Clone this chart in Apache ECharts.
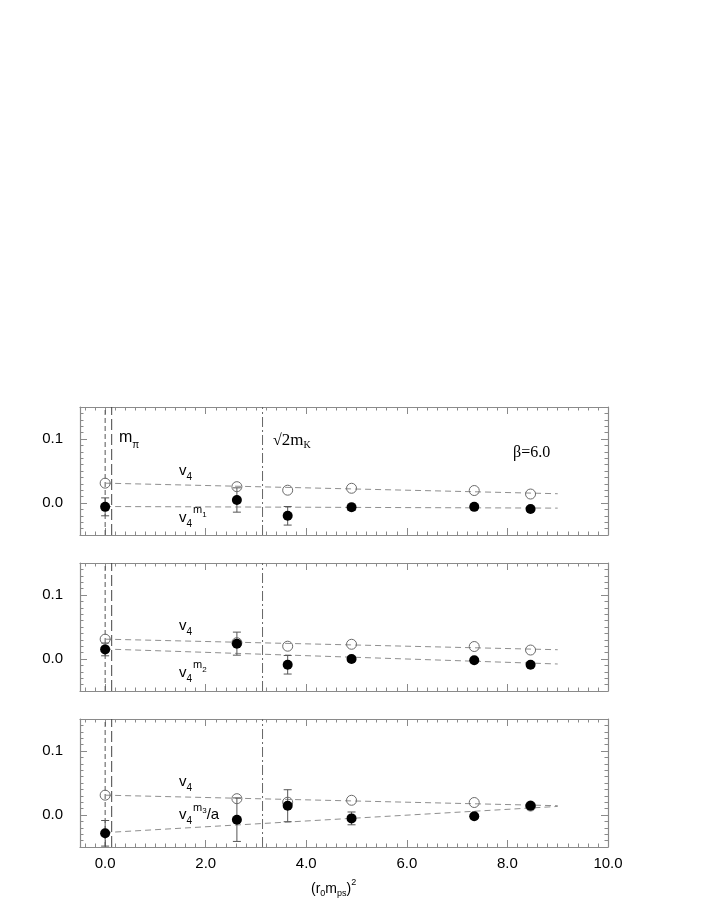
<!DOCTYPE html>
<html>
<head>
<meta charset="utf-8">
<script src="https://cdn.jsdelivr.net/npm/echarts@6/dist/echarts.min.js"></script>
<style>
html,body{margin:0;padding:0;background:#fff;}
#chart{width:708px;height:917px;}
</style>
</head>
<body>
<div id="chart"></div>
<script>
// ---------------- data ----------------
const xValues = [0, 2.62, 3.63, 4.90, 7.34, 8.46];
const v4 = [0.031, 0.0255, 0.020, 0.023, 0.0195, 0.014];
const m1 = [-0.006, 0.0047, -0.020, -0.0067, -0.006, -0.0094];
const m1Err = [0.014, 0.019, 0.0145, 0.005, 0.003, 0.003];
const m2 = [0.015, 0.024, -0.009, 0.0, -0.002, -0.009];
const m2Err = [0.010, 0.018, 0.0145, 0.004, 0.003, 0.003];
const m3 = [-0.0286, -0.0073, 0.0145, -0.0053, -0.002, 0.0145];
const m3Err = [0.020, 0.034, 0.025, 0.010, 0.003, 0.003];
const fitX = [0, 9];
const fitV4 = [0.031, 0.0145];
const fitM1 = [-0.0055, -0.008];
const fitM2 = [0.0156, -0.0078];
const fitM3 = [-0.0275, 0.0134];
const vLineX = [0, 0.13, 3.13];
const xMajorTicks = [0, 2, 4, 6, 8, 10];
const yMajorTicks = [0, 0.1];
const xRange = [-0.5, 10];
const yRange = [-0.05, 0.15];

const panels = [
  {vals: m1, errs: m1Err, fit: fitM1},
  {vals: m2, errs: m2Err, fit: fitM2},
  {vals: m3, errs: m3Err, fit: fitM3}
];

// minor tick positions
const xMinorTicks = [];
for (let i = -2; i <= 50; i++) xMinorTicks.push(+(i * 0.2).toFixed(2));
const yMinorTicks = [];
for (let i = -5; i <= 15; i++) yMinorTicks.push(+(i * 0.01).toFixed(3));

const FRAME = '#8a8a8a';
const SANS = '"Liberation Sans", Arial, sans-serif';
const SERIF = '"Liberation Serif", "Times New Roman", serif';

const chart = echarts.init(document.getElementById('chart'), null, {renderer: 'canvas'});

const gridTops = [407, 563, 719];
const grids = gridTops.map(t => ({left: 80, width: 528, top: t, height: 128}));

const xAxes = [], yAxes = [];
gridTops.forEach((t, gi) => {
  const isLast = gi === 2;
  [['bottom', true], ['bottom', false], ['top', true], ['top', false]].forEach(([pos, major]) => {
    xAxes.push({
      type: 'value', gridIndex: gi, position: pos, min: xRange[0], max: xRange[1],
      axisLine: {show: major, onZero: false, lineStyle: {color: FRAME, width: 1.2}},
      axisTick: {show: true, inside: true, length: major ? 7 : 3.5,
        customValues: major ? xMajorTicks : xMinorTicks,
        lineStyle: {color: FRAME, width: 1}},
      axisLabel: {show: major && pos === 'bottom' && isLast, customValues: xMajorTicks,
        formatter: v => v.toFixed(1), color: '#000', fontSize: 15, fontFamily: SANS, margin: 9},
      splitLine: {show: false}
    });
  });
  [['left', true], ['left', false], ['right', true], ['right', false]].forEach(([pos, major]) => {
    yAxes.push({
      type: 'value', gridIndex: gi, position: pos, min: yRange[0], max: yRange[1],
      axisLine: {show: major, onZero: false, lineStyle: {color: FRAME, width: 1.2}},
      axisTick: {show: true, inside: true, length: major ? 7 : 3.5,
        customValues: major ? yMajorTicks : yMinorTicks,
        lineStyle: {color: FRAME, width: 1}},
      axisLabel: {show: major && pos === 'left', customValues: yMajorTicks,
        formatter: v => v.toFixed(1), color: '#000', fontSize: 15, fontFamily: SANS, margin: 17},
      splitLine: {show: false}
    });
  });
});

const series = [];
panels.forEach((p, gi) => {
  const xi = gi * 4, yi = gi * 4;
  // vertical marker lines
  const vStyles = [
    {type: [5, 3], color: '#555', width: 1},
    {type: [11, 4], color: '#444', width: 1},
    {type: [10, 3, 2, 3], color: '#666', width: 1}
  ];
  vLineX.forEach((vx, k) => {
    series.push({
      type: 'line', xAxisIndex: xi, yAxisIndex: yi, symbol: 'none', silent: true,
      data: [[vx, yRange[0]], [vx, yRange[1]]],
      lineStyle: vStyles[k], z: 1, animation: false
    });
  });
  // fit lines
  series.push({
    type: 'line', xAxisIndex: xi, yAxisIndex: yi, symbol: 'none', silent: true,
    data: fitX.map((x, i) => [x, fitV4[i]]),
    lineStyle: {type: [6, 4], color: '#8f8f8f', width: 1}, z: 2, animation: false
  });
  series.push({
    type: 'line', xAxisIndex: xi, yAxisIndex: yi, symbol: 'none', silent: true,
    data: fitX.map((x, i) => [x, p.fit[i]]),
    lineStyle: {type: [6, 4], color: '#8f8f8f', width: 1}, z: 2, animation: false
  });
  // error bars
  series.push({
    type: 'custom', xAxisIndex: xi, yAxisIndex: yi, silent: true, z: 3, animation: false,
    data: xValues.map((x, i) => [x, p.vals[i] - p.errs[i], p.vals[i] + p.errs[i]]),
    renderItem: (params, api) => {
      const lo = api.coord([api.value(0), api.value(1)]);
      const hi = api.coord([api.value(0), api.value(2)]);
      const cw = 4;
      const st = {stroke: '#555', lineWidth: 1};
      return {type: 'group', children: [
        {type: 'line', shape: {x1: lo[0], y1: lo[1], x2: hi[0], y2: hi[1]}, style: st},
        {type: 'line', shape: {x1: lo[0] - cw, y1: lo[1], x2: lo[0] + cw, y2: lo[1]}, style: st},
        {type: 'line', shape: {x1: hi[0] - cw, y1: hi[1], x2: hi[0] + cw, y2: hi[1]}, style: st}
      ]};
    }
  });
  // open circles
  series.push({
    type: 'scatter', xAxisIndex: xi, yAxisIndex: yi, symbol: 'circle', symbolSize: 10,
    data: xValues.map((x, i) => [x, v4[i]]), z: 4, animation: false, silent: true,
    itemStyle: {color: 'rgba(255,255,255,0)', borderColor: '#6a6a6a', borderWidth: 1, opacity: 1}
  });
  // filled circles
  series.push({
    type: 'scatter', xAxisIndex: xi, yAxisIndex: yi, symbol: 'circle', symbolSize: 10,
    data: xValues.map((x, i) => [x, p.vals[i]]), z: 5, animation: false, silent: true,
    itemStyle: {color: '#000', opacity: 1, borderWidth: 0}
  });
});

// ---- text annotations ----
const mctx = document.createElement('canvas').getContext('2d');
function tw(t, size, fam) { mctx.font = size + 'px ' + fam; return mctx.measureText(t).width; }
const graphics = [];
// pieces: [text, size, baselineOffset, family, gapAfter]
function seq(x, base, pieces) {
  let cx = x;
  pieces.forEach(pc => {
    const [t, size, dy, fam, gap] = pc;
    const f = fam || SANS;
    graphics.push({
      type: 'text', silent: true, z: 100,
      style: {x: cx, y: base + dy, text: t, font: size + 'px ' + f, fill: '#000',
        textAlign: 'left', textVerticalAlign: 'bottom'}
    });
    cx += tw(t, size, f) + (gap || 0);
  });
}
function B(base, size) { return base + 0.21 * size; }
function seqB(x, base, pieces) {
  seq(x, 0, pieces.map(pc => [pc[0], pc[1], B(base + pc[2], pc[1]), pc[3], pc[4]]));
}

// panel 1
seqB(119, 442, [['m', 16, 0], ['π', 10, 6]]);
seqB(273, 445, [['√', 16, 0, SERIF], ['2m', 17, 0, SERIF], ['K', 10, 3, SERIF]]);
seqB(513, 457, [['β=6.0', 16, 0, SERIF]]);

const dyP = [0, 155, 311];
[0, 1, 2].forEach(k => {
  seqB(179, 475 + dyP[k], [['v', 15, 0], ['4', 10, 5]]);
});
seqB(179, 522, [['v', 15, 0], ['4', 10, 5, SANS, 1], ['m', 11, -9], ['1', 8, -5]]);
seqB(179, 522 + 155, [['v', 15, 0], ['4', 10, 5, SANS, 1], ['m', 11, -9], ['2', 8, -5]]);
seqB(179, 819, [['v', 15, 0], ['4', 10, 5, SANS, 1], ['m', 11, -8], ['3', 8, -6], ['/a', 15, 0]]);

// x axis title
seqB(311, 893, [['(r', 14, 0], ['0', 9, 3], ['m', 14, 0], ['ps', 9, 3], [')', 14, 0], ['2', 9, -8]]);

chart.setOption({
  animation: false,
  backgroundColor: '#fff',
  grid: grids,
  xAxis: xAxes,
  yAxis: yAxes,
  series: series,
  graphic: graphics
});
</script>
</body>
</html>
